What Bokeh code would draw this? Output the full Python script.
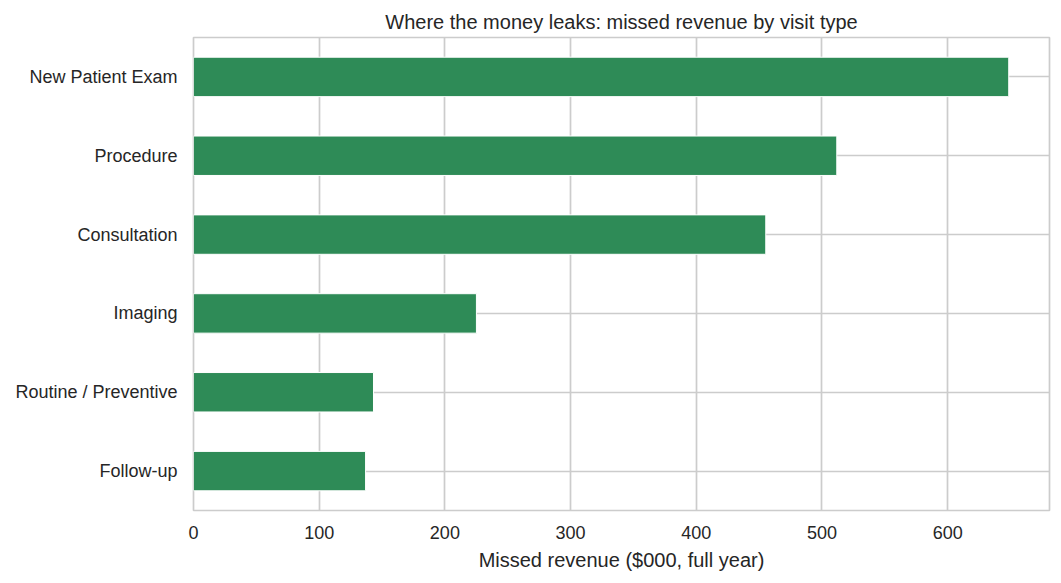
from bokeh.plotting import figure
from bokeh.models import Range1d, FactorRange, FixedTicker, ColumnDataSource
from bokeh.embed import file_html
from bokeh.resources import INLINE

categories = ["Follow-up", "Routine / Preventive", "Imaging", "Consultation",
              "Procedure", "New Patient Exam"]
missed_revenue = [136.9, 143.2, 225.1, 455.3, 511.8, 648.6]
x_ticks = [0, 100, 200, 300, 400, 500, 600]

FONT = "Liberation Sans"
TEXT = "#262626"
GRID = "#cccccc"

src = ColumnDataSource(dict(cat=categories, val=missed_revenue))

p = figure(width=1061, height=583,
           y_range=FactorRange(*categories, range_padding=0),
           x_range=Range1d(0, max(missed_revenue) * 1.05),
           output_backend="svg", toolbar_location=None,
           title="Where the money leaks: missed revenue by visit type",
           x_axis_label="Missed revenue ($000, full year)",
           min_border_left=193, min_border_right=12,
           min_border_top=37, min_border_bottom=73)

p.hbar(y="cat", right="val", left=0, height=0.5, source=src,
       fill_color="#2E8B57", line_color="white", line_width=1)

p.title.align = "center"
p.title.text_font = FONT
p.title.text_font_size = "20px"
p.title.text_font_style = "normal"
p.title.text_color = TEXT

p.xaxis.ticker = FixedTicker(ticks=x_ticks)
p.xgrid.ticker = FixedTicker(ticks=x_ticks)
for ax in (p.xaxis[0], p.yaxis[0]):
    ax.axis_line_color = None
    ax.major_tick_line_color = None
    ax.minor_tick_line_color = None
    ax.major_label_text_font = FONT
    ax.major_label_text_font_size = "18px"
    ax.major_label_text_color = TEXT
p.xaxis.axis_label_text_font = FONT
p.xaxis.axis_label_text_font_size = "20px"
p.xaxis.axis_label_text_font_style = "normal"
p.xaxis.axis_label_text_color = TEXT
p.xaxis.major_label_standoff = 9
p.xaxis.axis_label_standoff = 7
p.yaxis.major_label_standoff = 10

p.grid.grid_line_color = GRID
p.grid.grid_line_width = 1.7
p.outline_line_color = GRID
p.outline_line_width = 1.7
p.background_fill_color = "white"
p.border_fill_color = "white"

open("out.html", "w").write(file_html(p, INLINE))
